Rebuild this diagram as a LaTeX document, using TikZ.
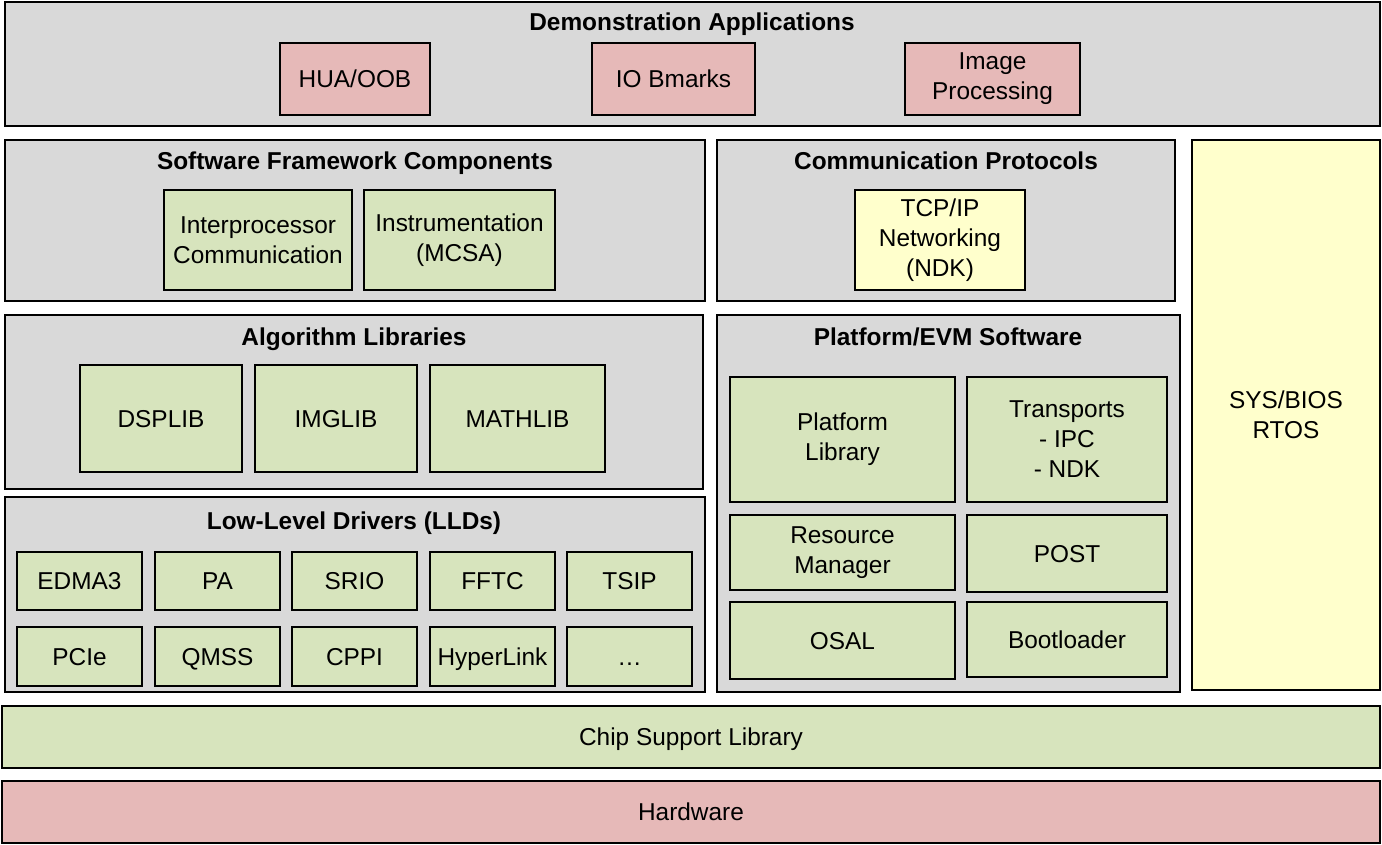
\documentclass[tikz,border=0pt]{standalone}
\usepackage{fontspec}
\setmainfont{Liberation Sans}
\definecolor{gbox}{HTML}{D9D9D9}
\definecolor{grn}{HTML}{D7E4BD}
\definecolor{pnk}{HTML}{E6B9B8}
\definecolor{ylw}{HTML}{FFFFCC}
\newcommand\bx[7]{\node[#6, minimum width={(#4-#2)*0.75pt}, minimum height={(#5-#3)*0.75pt}] (#1) at ({(#2+#4)/2},{-(#3+#5)/2}) {#7};}
\tikzset{
  outer/.style={draw=black, line width=2.2pt, fill=gbox, inner sep=0pt},
  inner/.style={draw=black, line width=1.6pt, inner sep=0pt, align=center, font=\fontsize{18.3}{22.5}\selectfont},
  sl/.style={text height=13.1pt, text depth=0pt},
  gi/.style={inner, fill=grn},
  pi/.style={inner, fill=pnk},
  yi/.style={inner, fill=ylw},
  band/.style={draw=black, line width=2.2pt, inner sep=0pt, sl, font=\fontsize{18.3}{22.5}\selectfont},
  ttl/.style={inner sep=0pt, anchor=base, font=\bfseries\fontsize{18.3}{22}\selectfont}
}
\begin{document}
\begin{tikzpicture}[x=0.75pt,y=0.75pt]
\useasboundingbox (0,0) rectangle (1382,-845);
% Demonstration Applications
\bx{demo}{5}{2}{1380}{126}{outer}{}
\node[ttl] (demot) at (692,-31) {Demonstration Applications};
\bx{hua}{280}{43}{430}{115}{pi,sl}{HUA/OOB}
\bx{iob}{592}{43}{755}{115}{pi,sl}{IO Bmarks}
\bx{img}{905}{43}{1080}{115}{pi}{Image\\Processing}
% Software Framework Components
\bx{sfc}{5}{140}{705}{301}{outer}{}
\node[ttl] (sfct) at (355,-170) {Software Framework Components};
\bx{ipc}{164}{190}{352}{290}{gi}{Interprocessor\\Communication}
\bx{mcsa}{364}{190}{555}{290}{gi}{Instrumentation\\(MCSA)}
% Communication Protocols
\bx{cp}{717}{140}{1175}{301}{outer}{}
\node[ttl] (cpt) at (946,-170) {Communication Protocols};
\bx{ndk}{855}{190}{1025}{290}{yi}{TCP/IP\\Networking\\(NDK)}
% SYS/BIOS
\bx{bios}{1192}{140}{1380}{690}{yi}{SYS/BIOS\\RTOS}
% Algorithm Libraries
\bx{alg}{5}{315}{703}{489}{outer}{}
\node[ttl] (algt) at (354,-345) {Algorithm Libraries};
\bx{dsp}{80}{365}{242}{472}{gi,sl}{DSPLIB}
\bx{imgl}{255}{365}{417}{472}{gi,sl}{IMGLIB}
\bx{math}{430}{365}{605}{472}{gi,sl}{MATHLIB}
% Platform/EVM Software
\bx{pevm}{717}{315}{1180}{692}{outer}{}
\node[ttl] (pevmt) at (948,-345) {Platform/EVM Software};
\bx{plib}{730}{377}{955}{502}{gi}{Platform\\Library}
\bx{trans}{967}{377}{1167}{502}{gi}{Transports\\- IPC\\- NDK}
\bx{rm}{730}{515}{955}{590}{gi}{Resource\\Manager}
\bx{post}{967}{515}{1167}{592}{gi,sl}{POST}
\bx{osal}{730}{602}{955}{679}{gi,sl}{OSAL}
\bx{boot}{967}{602}{1167}{677}{gi,sl}{Bootloader}
% Low-Level Drivers
\bx{lld}{5}{497}{705}{692}{outer}{}
\node[ttl] (lldt) at (354,-529) {Low-Level Drivers (LLDs)};
\bx{edma}{17}{552}{142}{610}{gi,sl}{EDMA3}
\bx{pa}{155}{552}{280}{610}{gi,sl}{PA}
\bx{srio}{292}{552}{417}{610}{gi,sl}{SRIO}
\bx{fftc}{430}{552}{555}{610}{gi,sl}{FFTC}
\bx{tsip}{567}{552}{692}{610}{gi,sl}{TSIP}
\bx{pcie}{17}{627}{142}{686}{gi,sl}{PCIe}
\bx{qmss}{155}{627}{280}{686}{gi,sl}{QMSS}
\bx{cppi}{292}{627}{417}{686}{gi,sl}{CPPI}
\bx{hyper}{430}{627}{555}{686}{gi,sl}{HyperLink}
\bx{more}{567}{627}{692}{686}{gi,sl}{\ldots}
% bottom bands
\bx{csl}{2}{706}{1380}{768}{band, fill=grn}{Chip Support Library}
\bx{hw}{2}{781}{1380}{843}{band, fill=pnk}{Hardware}
\end{tikzpicture}
\end{document}
